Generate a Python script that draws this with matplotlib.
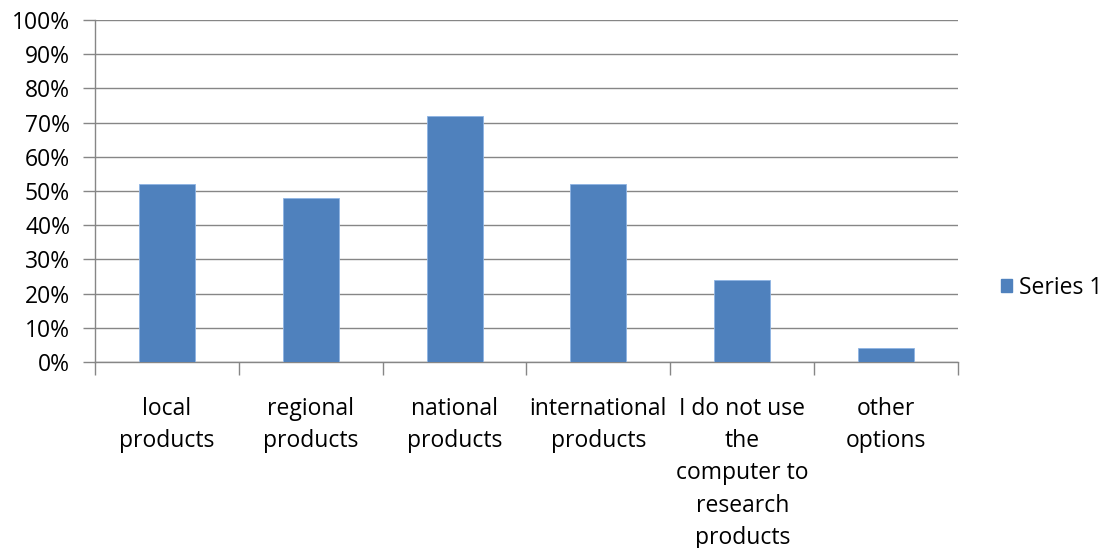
import matplotlib
matplotlib.use("Agg")
import matplotlib.pyplot as plt
import numpy as np
from matplotlib.patches import Patch

categories = ["local\nproducts", "regional\nproducts", "national\nproducts",
              "international\nproducts", "I do not use\nthe\ncomputer to\nresearch\nproducts",
              "other\noptions"]
values = [0.52, 0.48, 0.72, 0.52, 0.24, 0.04]
series_name = "Series 1"
yticks = [0.0, 0.1, 0.2, 0.3, 0.4, 0.5, 0.6, 0.7, 0.8, 0.9, 1.0]
ytick_labels = ["0%", "10%", "20%", "30%", "40%", "50%", "60%", "70%", "80%", "90%", "100%"]

plt.rcParams['font.family'] = ['Open Sans', 'DejaVu Sans']
W, H = 1118, 548
FS = 16.5
fig = plt.figure(figsize=(W/100, H/100), dpi=100)
ax = fig.add_axes([95/W, 1-362/H, (958-95)/W, (362-20)/H])

color = "#4F81BD"
x = np.arange(len(categories))
ax.bar(x, values, width=0.39, color=color, edgecolor="#8EB4E3", linewidth=0.6, zorder=3)
ax.set_xlim(-0.5, len(categories)-0.5)
ax.set_ylim(0, 1.0)
ax.set_yticks(yticks)
ax.set_yticklabels(ytick_labels, fontsize=FS)
ax.yaxis.grid(True, color="#868686", linewidth=1.0, zorder=0)
ax.set_axisbelow(True)

ax.set_xticks(np.arange(-0.5, len(categories), 1.0))
ax.set_xticklabels([])
ax.set_xticks(x, minor=True)
ax.set_xticklabels(categories, minor=True, fontsize=FS, linespacing=1.46, va="top")
ax.tick_params(axis="x", which="minor", length=0, pad=25)
ax.tick_params(axis="x", which="major", length=9, width=1, color="#868686", direction="out")
ax.tick_params(axis="y", length=9, width=1, color="#868686", direction="out", pad=9)

for s in ["top", "right"]:
    ax.spines[s].set_visible(False)
for s in ["left", "bottom"]:
    ax.spines[s].set_color("#868686")
    ax.spines[s].set_linewidth(1)

handle = Patch(facecolor=color, edgecolor=color)
fig.legend([handle], [series_name], loc="center left", bbox_to_anchor=(1001/W, 1-288/H),
           frameon=False, fontsize=FS, handlelength=0.5, handleheight=0.5, handletextpad=0.3,
           borderpad=0, borderaxespad=0)

fig.savefig("out.png", dpi=100)
